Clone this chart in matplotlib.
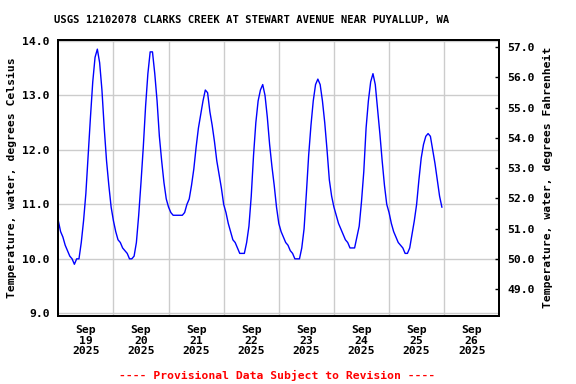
import pandas as pd
import matplotlib
matplotlib.use('Agg')
import matplotlib.pyplot as plt

# Hourly water temperature (deg C), one list per day
sep19 = [10.7, 10.5, 10.4, 10.25, 10.15, 10.05, 10.0, 9.9, 10.0, 10.0, 10.3, 10.7,
         11.2, 11.9, 12.6, 13.25, 13.7, 13.85, 13.6, 13.1, 12.4, 11.8, 11.35, 10.95]
sep20 = [10.7, 10.5, 10.35, 10.3, 10.2, 10.15, 10.1, 10.0, 10.0, 10.05, 10.3, 10.8,
         11.4, 12.05, 12.8, 13.4, 13.8, 13.8, 13.4, 12.9, 12.25, 11.8, 11.4, 11.1]
sep21 = [10.95, 10.85, 10.8, 10.8, 10.8, 10.8, 10.8, 10.85, 11.0, 11.1, 11.35, 11.65,
         12.05, 12.4, 12.65, 12.9, 13.1, 13.05, 12.7, 12.45, 12.15, 11.8, 11.55, 11.3]
sep22 = [11.0, 10.85, 10.65, 10.5, 10.35, 10.3, 10.2, 10.1, 10.1, 10.1, 10.3, 10.6,
         11.15, 11.9, 12.5, 12.9, 13.1, 13.2, 13.0, 12.6, 12.1, 11.7, 11.35, 10.95]
sep23 = [10.65, 10.5, 10.4, 10.3, 10.25, 10.15, 10.1, 10.0, 10.0, 10.0, 10.2, 10.55,
         11.2, 11.9, 12.45, 12.9, 13.2, 13.3, 13.2, 12.9, 12.5, 12.0, 11.45, 11.15]
sep24 = [10.95, 10.8, 10.65, 10.55, 10.45, 10.35, 10.3, 10.2, 10.2, 10.2, 10.4, 10.6,
         11.05, 11.6, 12.4, 12.9, 13.25, 13.4, 13.2, 12.75, 12.3, 11.8, 11.35, 11.0]
sep25 = [10.85, 10.65, 10.5, 10.4, 10.3, 10.25, 10.2, 10.1, 10.1, 10.2, 10.45, 10.7,
         11.0, 11.45, 11.85, 12.1, 12.25, 12.3, 12.25, 12.0, 11.75, 11.45, 11.15, 10.95]

temp_c = sep19 + sep20 + sep21 + sep22 + sep23 + sep24 + sep25
times = pd.date_range('2025-09-19 00:00', periods=len(temp_c), freq='h')

day_labels = ['Sep\n19\n2025', 'Sep\n20\n2025', 'Sep\n21\n2025', 'Sep\n22\n2025',
              'Sep\n23\n2025', 'Sep\n24\n2025', 'Sep\n25\n2025', 'Sep\n26\n2025']
c_ticks = [9.0, 10.0, 11.0, 12.0, 13.0, 14.0]
f_ticks = [49.0, 50.0, 51.0, 52.0, 53.0, 54.0, 55.0, 56.0, 57.0]

font = 'DejaVu Sans Mono'
fs = 8.2

fig = plt.figure(figsize=(5.76, 3.84), dpi=100)
ax = fig.add_axes([58.3 / 576, 68.3 / 384, 441 / 576, 275.7 / 384])

ax.plot(times, temp_c, color='#0000ff', lw=1.0, zorder=3)

ax.set_xlim(pd.Timestamp('2025-09-19'), pd.Timestamp('2025-09-27'))
ylo, yhi = 8.956, 14.018
ax.set_ylim(ylo, yhi)

# grid at midnight, labels at noon
midnights = pd.date_range('2025-09-20', '2025-09-26', freq='D')
ax.set_xticks(midnights, minor=True)
ax.set_xticks(pd.date_range('2025-09-19 12:00', periods=8, freq='D'))
ax.set_xticklabels(day_labels, fontfamily=font, fontweight='bold', fontsize=fs,
                   linespacing=1.1)
ax.grid(True, which='minor', axis='x', color='#cccccc', lw=1.0)
ax.grid(True, which='major', axis='y', color='#cccccc', lw=1.0)
ax.tick_params(axis='x', which='both', length=0, pad=6.5)

ax.set_yticks(c_ticks)
ax.set_yticklabels([f'{v:.1f}' for v in c_ticks], fontfamily=font,
                   fontweight='bold', fontsize=fs)
ax.tick_params(axis='y', length=0, pad=6)
ax.set_ylabel('Temperature, water, degrees Celsius', fontfamily=font,
              fontweight='bold', fontsize=fs, labelpad=4)

for s in ax.spines.values():
    s.set_linewidth(1.4)

# Fahrenheit axis on the right
ax2 = ax.twinx()
ax2.set_ylim(ylo * 9 / 5 + 32, yhi * 9 / 5 + 32)
ax2.set_yticks(f_ticks)
ax2.set_yticklabels([f'{v:.1f}' for v in f_ticks], fontfamily=font,
                    fontweight='bold', fontsize=fs)
ax2.tick_params(axis='y', direction='in', length=3, width=1, pad=6)
ax2.set_ylabel('Temperature, water, degrees Fahrenheit', fontfamily=font,
               fontweight='bold', fontsize=fs, labelpad=6)
for s in ax2.spines.values():
    s.set_linewidth(1.4)

fig.text(252 / 576, 1 - 20 / 384,
         'USGS 12102078 CLARKS CREEK AT STEWART AVENUE NEAR PUYALLUP, WA',
         ha='center', va='center', fontfamily=font, fontweight='bold', fontsize=7.6)
fig.text(277 / 576, 9 / 384, '---- Provisional Data Subject to Revision ----',
         ha='center', va='center', color='red', fontfamily=font,
         fontweight='bold', fontsize=fs)

fig.savefig('out.png', dpi=100)
